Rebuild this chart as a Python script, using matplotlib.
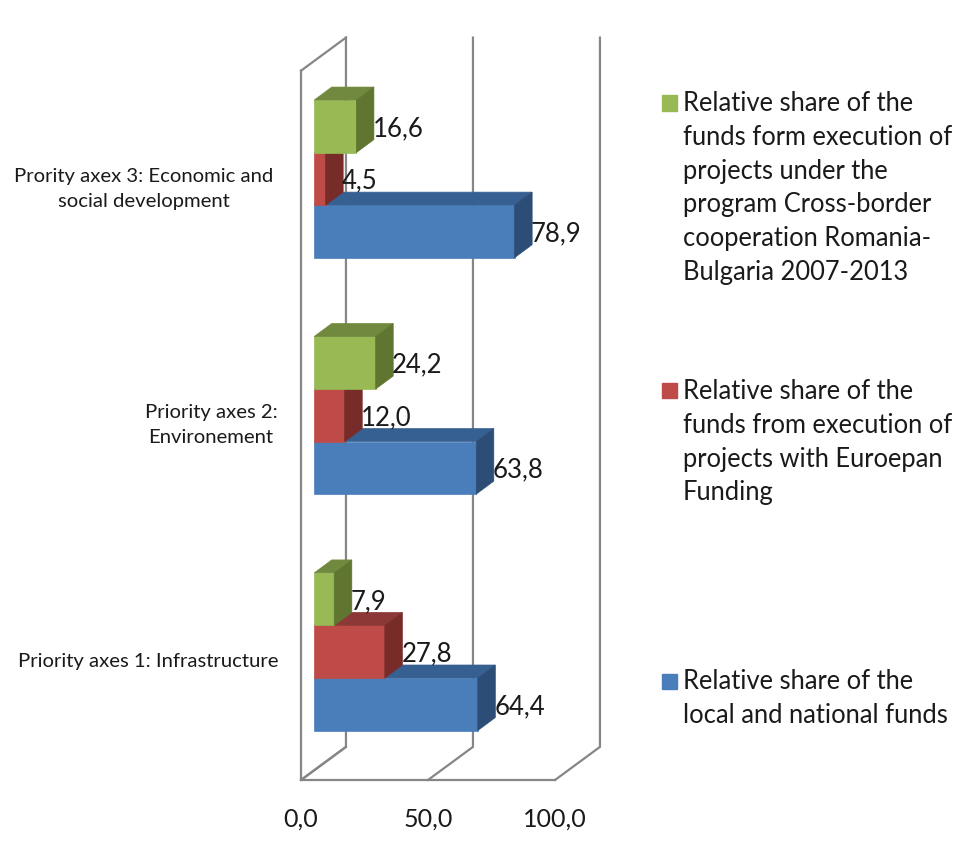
import matplotlib
matplotlib.use('Agg')
import matplotlib.pyplot as plt
from matplotlib.patches import Rectangle

plt.rcParams['font.family'] = ['Lato', 'DejaVu Sans']

categories = ['Priority axes 1: Infrastructure',
              'Priority axes 2:\nEnvironement',
              'Prority axex 3: Economic and\nsocial development']
local_funds = [64.4, 63.8, 78.9]
european_funds = [27.8, 12.0, 4.5]
crossborder_funds = [7.9, 24.2, 16.6]
x_ticks = [0, 50, 100]
x_labels = ['0,0', '50,0', '100,0']
legend_labels = ['Relative share of the\nfunds form execution of\nprojects under the\nprogram Cross-border\ncooperation Romania-\nBulgaria 2007-2013',
                 'Relative share of the\nfunds from execution of\nprojects with Euroepan\nFunding',
                 'Relative share of the\nlocal and national funds']

# front, top, side colours of each series
BLUE = ('#4A7EBB', '#376092', '#2C4D75')
RED = ('#BE4B48', '#8C3836', '#772C2A')
GREEN = ('#98B954', '#71893F', '#5F7530')
GRID = '#868686'

# depth of the fake 3d box, in data units
WALL_DX, WALL_DY = 17.7, 0.14
BAR_DX, BAR_DY = 6.9, 0.055
BAR_H = 2 / 9


def draw_bar(ax, y, value, colors):
    x0 = (WALL_DX - BAR_DX) / 2 - 0.2
    y0 = y + (WALL_DY - BAR_DY) / 2
    x1 = x0 + value
    y1 = y0 + BAR_H
    ax.fill([x0, x1, x1, x0], [y0, y0, y1, y1], color=colors[0], lw=0.5, clip_on=False, zorder=3)
    ax.fill([x0, x1, x1 + BAR_DX, x0 + BAR_DX], [y1, y1, y1 + BAR_DY, y1 + BAR_DY],
            color=colors[1], lw=0.5, clip_on=False, zorder=3)
    ax.fill([x1, x1 + BAR_DX, x1 + BAR_DX, x1], [y0, y0 + BAR_DY, y1 + BAR_DY, y1],
            color=colors[2], lw=0.5, clip_on=False, zorder=3)
    ax.text(x1 + BAR_DX - 0.4, y0 + BAR_H / 2 - 0.01, f'{value:.1f}'.replace('.', ','),
            ha='left', va='center', fontsize=18.5, color='#1a1a1a', zorder=5)


def main():
    fig = plt.figure(figsize=(9.55, 8.48), dpi=100)
    ax = fig.add_axes([301 / 955, 1 - 780 / 848, 254 / 955, 709.3 / 848])
    ax.set_xlim(0, 100)
    ax.set_ylim(0, 3)
    ax.axis('off')

    # walls and floor
    ax.plot([0, 0, WALL_DX], [3, 0, WALL_DY], color=GRID, lw=1.6, clip_on=False, zorder=1)
    ax.plot([0, WALL_DX], [3, 3 + WALL_DY], color=GRID, lw=1.6, clip_on=False, zorder=1)
    ax.plot([0, 100], [0, 0], color=GRID, lw=1.6, clip_on=False, zorder=1)
    for t in x_ticks:
        ax.plot([t, t + WALL_DX, t + WALL_DX], [0, WALL_DY, 3 + WALL_DY], color=GRID, lw=1.6,
                clip_on=False, zorder=1)

    series = [(local_funds, BLUE), (european_funds, RED), (crossborder_funds, GREEN)]
    for i in range(len(categories)):
        for j, (values, colors) in enumerate(series):
            draw_bar(ax, i + 1 / 6 + j * BAR_H, values[i], colors)

    for t, lab in zip(x_ticks, x_labels):
        ax.text(t, -0.167, lab, ha='center', va='center', fontsize=18, color='#1a1a1a')
    pads = [-16, -17, -20]
    for i, cat in enumerate(categories):
        ax.annotate(cat, (0, i + 0.5), xytext=(pads[i], 0), textcoords='offset points',
                    ha='right', va='center', multialignment='center', fontsize=14.6,
                    color='#1a1a1a', linespacing=1.58)

    # legend entries sit beside the plot at uneven gaps
    tops = [103, 391, 681]
    for y, lab, colors in zip(tops, legend_labels, [GREEN, RED, BLUE]):
        fig.add_artist(Rectangle((662 / 955, 1 - (y + 7.5) / 848), 14.5 / 955, 15 / 848,
                                 color=colors[0], transform=fig.transFigure))
        fig.text(683 / 955, 1 - (y - 12) / 848, lab, ha='left', va='top', fontsize=18.4,
                 color='#1a1a1a', linespacing=1.44)

    fig.savefig('out.png', dpi=100)


if __name__ == '__main__':
    main()
